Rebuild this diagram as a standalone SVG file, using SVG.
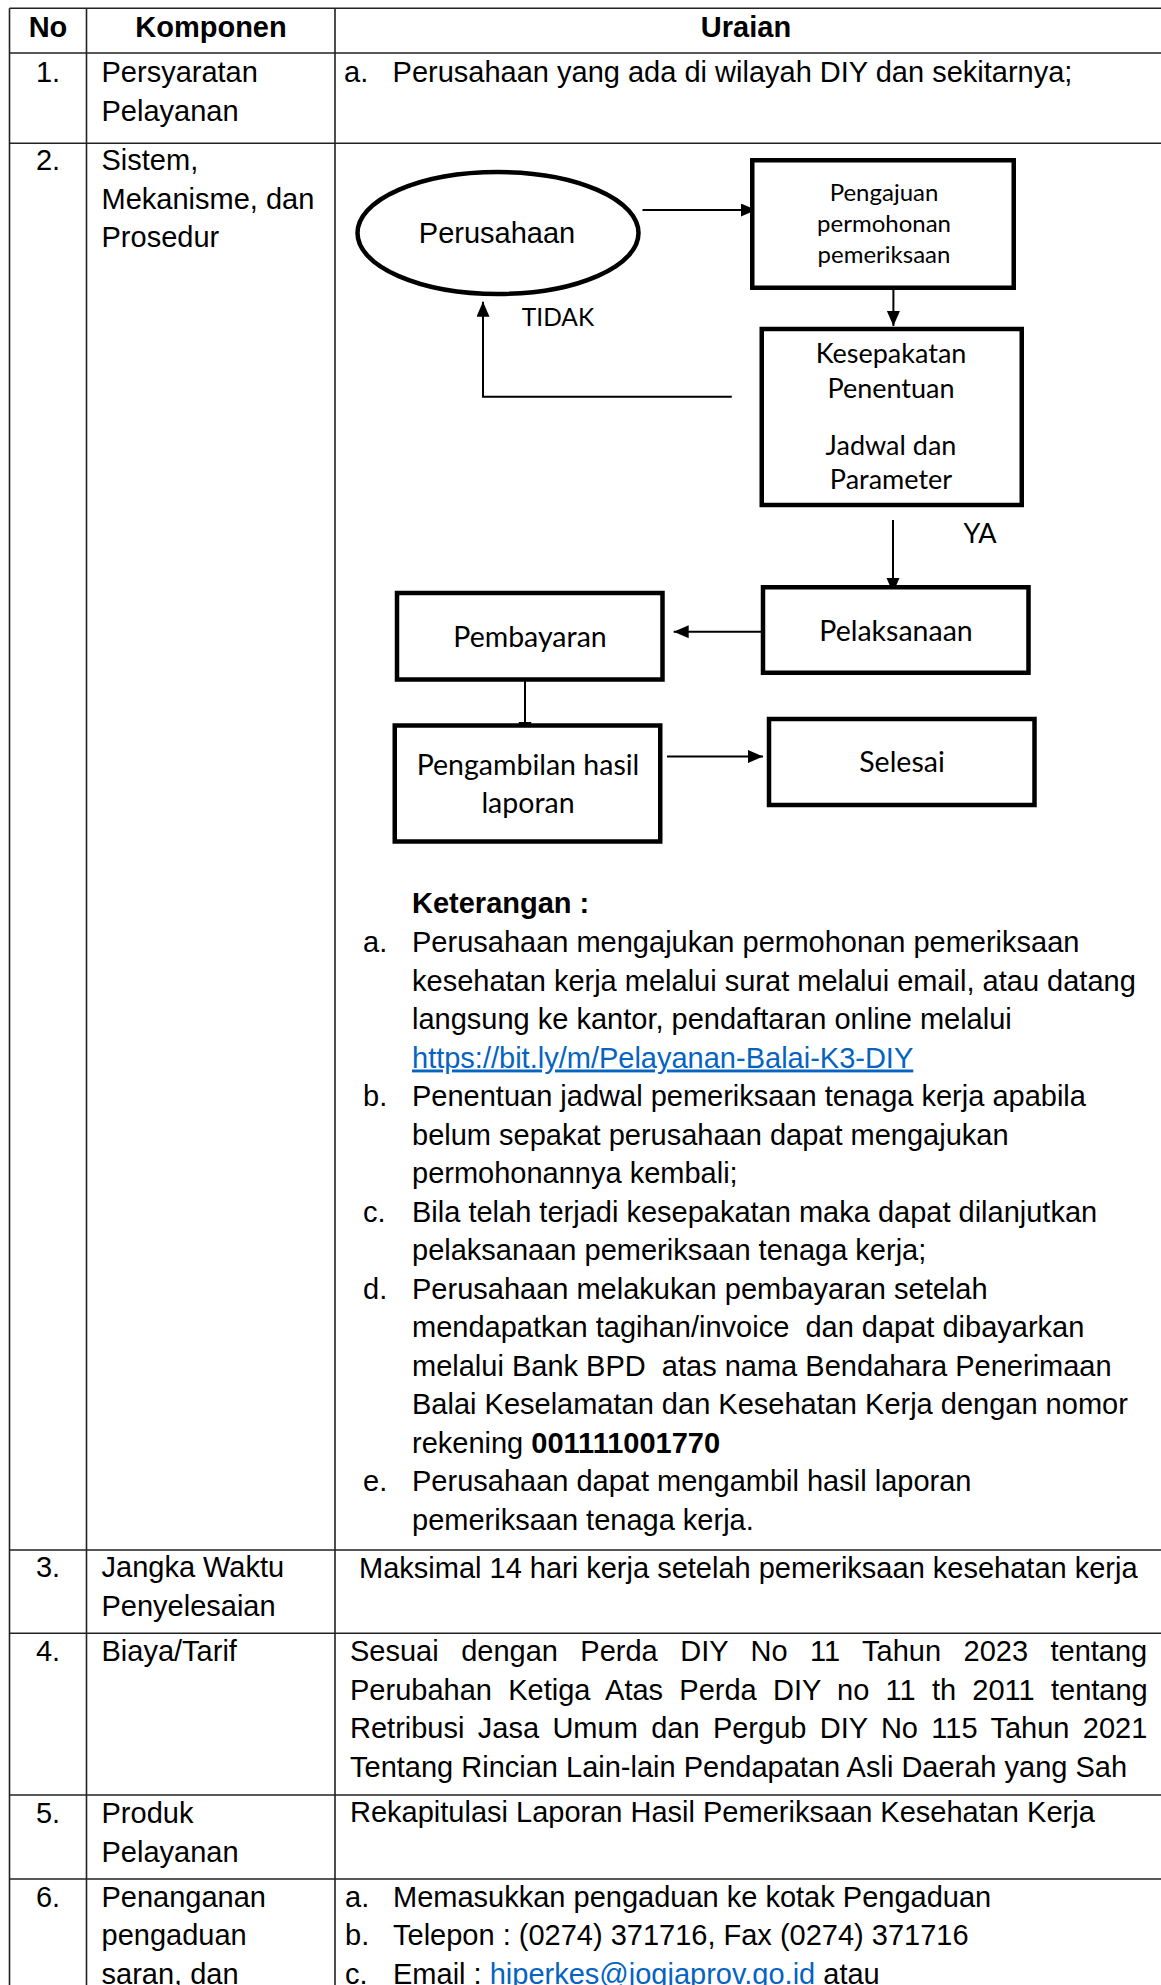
<svg xmlns="http://www.w3.org/2000/svg" width="1161" height="1985" viewBox="0 0 1161 1985">
<style>
.t{font-family:"Liberation Sans",Arial,sans-serif;font-size:29px;fill:#000}
.b{font-weight:bold}
.c{text-anchor:middle}
.f{font-family:Lato,"Liberation Sans",sans-serif;fill:#000;text-anchor:middle}
.f12{font-size:28.5px}
.lnk{fill:#0563C1;text-decoration:underline}
.grid{stroke:#222;stroke-width:1.6;fill:none}
.box{fill:#fff;stroke:#000;stroke-width:4.5}
.con{stroke:#000;stroke-width:2;fill:none}
</style>
<defs>
<marker id="ah" markerUnits="userSpaceOnUse" markerWidth="16" markerHeight="14" refX="15" refY="6.5" orient="auto">
<path d="M0,0 L15,6.5 L0,13 Z" fill="#000"/>
</marker>
</defs>
<rect width="1161" height="1985" fill="#fff"/>

<g id="table">
<path class="grid" d="M9.5,8.3 H1161 M9.5,53 H1161 M9.5,143.3 H1161 M9.5,1550 H1161 M9.5,1633.3 H1161 M9.5,1795 H1161 M9.5,1879 H1161 M9.5,8.3 V1985 M86.5,8.3 V1985 M335,8.3 V1985"/>
<text class="t b c" x="48" y="37">No</text>
<text class="t b c" x="211" y="37">Komponen</text>
<text class="t b c" x="746" y="37">Uraian</text>

<text class="t c" x="48" y="82">1.</text>
<text class="t" x="101.5" y="82">Persyaratan</text>
<text class="t" x="101.5" y="120.5">Pelayanan</text>
<text class="t" x="344" y="82">a.</text>
<text class="t" x="392.6" y="82">Perusahaan yang ada di wilayah DIY dan sekitarnya;</text>

<text class="t c" x="48" y="170">2.</text>
<text class="t" x="101.5" y="170">Sistem,</text>
<text class="t" x="101.5" y="208.5">Mekanisme, dan</text>
<text class="t" x="101.5" y="247">Prosedur</text>

<text class="t b" x="412" y="913">Keterangan :</text>
<text class="t" x="363" y="952">a.</text>
<text class="t" x="412" y="952">Perusahaan mengajukan permohonan pemeriksaan</text>
<text class="t" x="412" y="990.5">kesehatan kerja melalui surat melalui email, atau datang</text>
<text class="t" x="412" y="1029">langsung ke kantor, pendaftaran online melalui</text>
<text class="t lnk" x="412" y="1067.5">https://bit.ly/m/Pelayanan-Balai-K3-DIY</text>
<text class="t" x="363" y="1106">b.</text>
<text class="t" x="412" y="1106">Penentuan jadwal pemeriksaan tenaga kerja apabila</text>
<text class="t" x="412" y="1144.5">belum sepakat perusahaan dapat mengajukan</text>
<text class="t" x="412" y="1183">permohonannya kembali;</text>
<text class="t" x="363" y="1221.5">c.</text>
<text class="t" x="412" y="1221.5">Bila telah terjadi kesepakatan maka dapat dilanjutkan</text>
<text class="t" x="412" y="1260">pelaksanaan pemeriksaan tenaga kerja;</text>
<text class="t" x="363" y="1298.5">d.</text>
<text class="t" x="412" y="1298.5">Perusahaan melakukan pembayaran setelah</text>
<text class="t" x="412" y="1337" xml:space="preserve">mendapatkan tagihan/invoice  dan dapat dibayarkan</text>
<text class="t" x="412" y="1375.5" xml:space="preserve">melalui Bank BPD  atas nama Bendahara Penerimaan</text>
<text class="t" x="412" y="1414">Balai Keselamatan dan Kesehatan Kerja dengan nomor</text>
<text class="t" x="412" y="1452.5" xml:space="preserve">rekening <tspan class="b">001111001770</tspan></text>
<text class="t" x="363" y="1491">e.</text>
<text class="t" x="412" y="1491">Perusahaan dapat mengambil hasil laporan</text>
<text class="t" x="412" y="1529.5">pemeriksaan tenaga kerja.</text>

<text class="t c" x="48" y="1577">3.</text>
<text class="t" x="101.5" y="1577">Jangka Waktu</text>
<text class="t" x="101.5" y="1616">Penyelesaian</text>
<text class="t" x="359" y="1577.5">Maksimal 14 hari kerja setelah pemeriksaan kesehatan kerja</text>

<text class="t c" x="48" y="1661">4.</text>
<text class="t" x="101.5" y="1661">Biaya/Tarif</text>
<text class="t" x="350" y="1661" word-spacing="14.4">Sesuai dengan Perda DIY No 11 Tahun 2023 tentang</text>
<text class="t" x="350" y="1699.5" word-spacing="8.2">Perubahan Ketiga Atas Perda DIY no 11 th 2011 tentang</text>
<text class="t" x="350" y="1738" word-spacing="5.3">Retribusi Jasa Umum dan Pergub DIY No 115 Tahun 2021</text>
<text class="t" x="350" y="1776.5">Tentang Rincian Lain-lain Pendapatan Asli Daerah yang Sah</text>

<text class="t c" x="48" y="1822.5">5.</text>
<text class="t" x="101.5" y="1822.5">Produk</text>
<text class="t" x="101.5" y="1861.5">Pelayanan</text>
<text class="t" x="350" y="1822">Rekapitulasi Laporan Hasil Pemeriksaan Kesehatan Kerja</text>

<text class="t c" x="48" y="1906.5">6.</text>
<text class="t" x="101.5" y="1906.5">Penanganan</text>
<text class="t" x="101.5" y="1945">pengaduan</text>
<text class="t" x="101.5" y="1983.5">saran, dan</text>
<text class="t" x="345" y="1906.5">a.</text>
<text class="t" x="393" y="1906.5">Memasukkan pengaduan ke kotak Pengaduan</text>
<text class="t" x="345" y="1945">b.</text>
<text class="t" x="393" y="1945">Telepon : (0274) 371716, Fax (0274) 371716</text>
<text class="t" x="345" y="1983.5">c.</text>
<text class="t" x="393" y="1983.5">Email : <tspan class="lnk">hiperkes@jogjaprov.go.id</tspan> atau</text>
</g>

<g id="connectors">
<path class="con" d="M642.5,210 H756" marker-end="url(#ah)"/>
<path class="con" d="M893.4,290 V326" marker-end="url(#ah)"/>
<path class="con" d="M731.8,396.7 H483 V301.7" marker-end="url(#ah)"/>
<path class="con" d="M893,520 V593" marker-end="url(#ah)"/>
<path class="con" d="M766.6,631.7 H673.7" marker-end="url(#ah)"/>
<path class="con" d="M525,670.7 V737" marker-end="url(#ah)"/>
<path class="con" d="M667,756.5 H763" marker-end="url(#ah)"/>
<text class="f" x="558" y="326" font-size="24.5">TIDAK</text>
<text class="f" x="980" y="543" font-size="27">YA</text>
</g>

<g id="node-perusahaan">
<ellipse class="box" cx="498" cy="233" rx="140.5" ry="61"/>
<text class="t c" x="497" y="242.7" font-size="25.5">Perusahaan</text>
</g>
<g id="node-pengajuan">
<rect class="box" x="752.25" y="160.25" width="261.5" height="127.5"/>
<text class="f" x="884" y="200.7" font-size="24">Pengajuan</text>
<text class="f" x="884" y="231.7" font-size="24">permohonan</text>
<text class="f" x="884" y="263" font-size="24">pemeriksaan</text>
</g>
<g id="node-kesepakatan">
<rect class="box" x="761.75" y="329" width="260" height="176"/>
<text class="f" x="891" y="363" font-size="27">Kesepakatan</text>
<text class="f" x="891" y="398" font-size="27">Penentuan</text>
<text class="f" x="891" y="455" font-size="27">Jadwal dan</text>
<text class="f" x="891" y="489" font-size="27">Parameter</text>
</g>
<g id="node-pelaksanaan">
<rect class="box" x="763" y="587.25" width="265.5" height="85.5"/>
<text class="f f12" x="896" y="641">Pelaksanaan</text>
</g>
<g id="node-pembayaran">
<rect class="box" x="397" y="593" width="265.5" height="86.5"/>
<text class="f f12" x="530" y="646.7">Pembayaran</text>
</g>
<g id="node-pengambilan">
<rect class="box" x="394.75" y="725.5" width="265.5" height="116"/>
<text class="f f12" x="528" y="775">Pengambilan hasil</text>
<text class="f f12" x="528" y="813.3">laporan</text>
</g>
<g id="node-selesai">
<rect class="box" x="769" y="719" width="265.5" height="86"/>
<text class="f f12" x="902" y="772">Selesai</text>
</g>
</svg>
